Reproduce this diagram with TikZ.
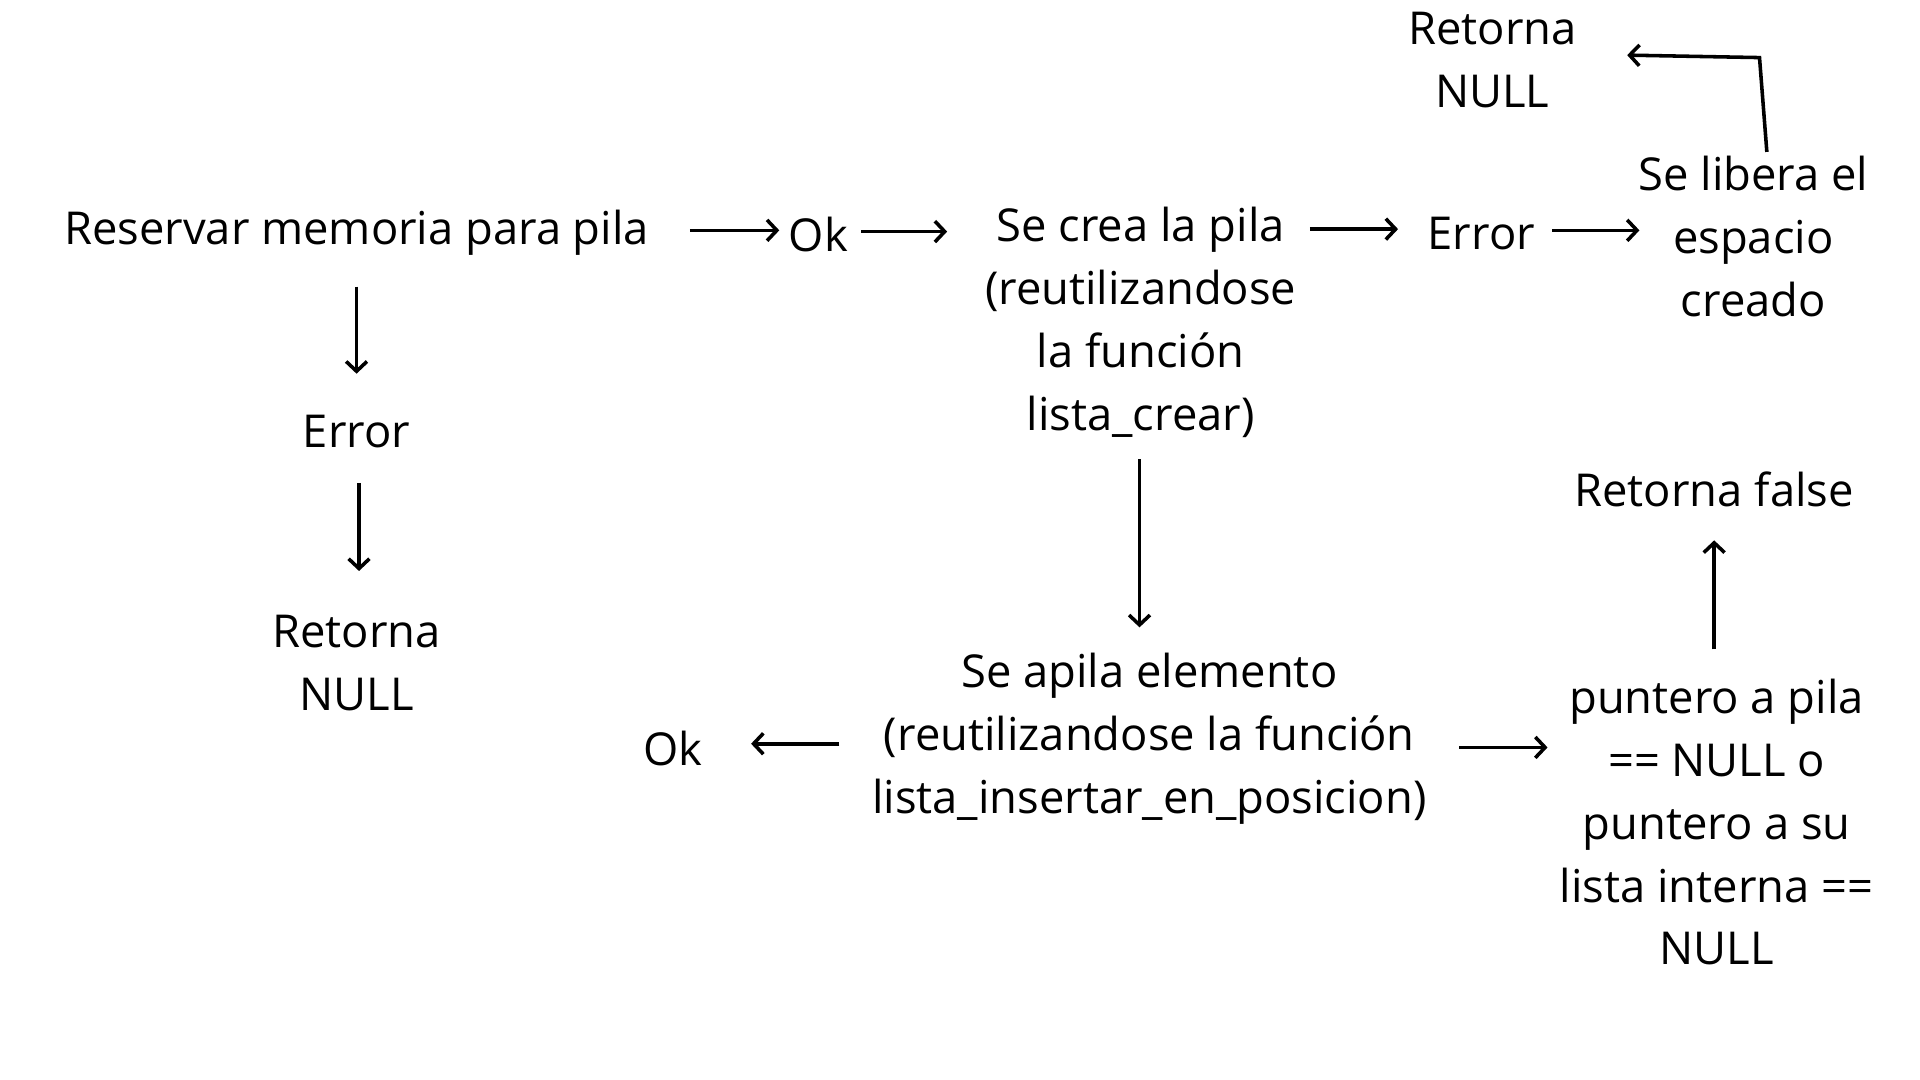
\documentclass[tikz,border=0pt]{standalone}
\usepackage{fontspec}
\setmainfont{Open Sans}
\usetikzlibrary{arrows.meta}
\begin{document}
\begin{tikzpicture}[x=0.5pt,y=-0.5pt,
  lbl/.style={inner sep=0pt,align=center,font=\fontsize{18.5}{25.65}\selectfont},
  arr/.style={line width=1.45pt,-{Straight Barb[length=4pt,width=8.5pt,line width=1.45pt]}}]
\useasboundingbox (0,0) rectangle (1567,881.4);
\node[lbl] (res) at (291,190) {Reservar memoria para pila};
\node[lbl] (ok1) at (668,191) {Ok};
\node[lbl] (crea) at (931,263) {Se crea la pila\\(reutilizandose\\la función\\lista\_crear)};
\node[lbl] (err2) at (1209,191) {Error};
\node[lbl] (lib) at (1431,193) {Se libera el\\espacio\\creado};
\node[lbl] (ret2) at (1218,49) {Retorna\\NULL};
\node[lbl] (err1) at (291,352) {Error};
\node[lbl] (ret1) at (291,541) {Retorna\\NULL};
\node[lbl] (apila) at (938,603) {Se apila elemento\\(reutilizandose la función\\lista\_insertar\_en\_posicion)};
\node[lbl] (ok2) at (549,611) {Ok};
\node[lbl] (punt) at (1401,671) {puntero a pila\\== NULL o\\puntero a su\\lista interna ==\\NULL};
\node[lbl] (retf) at (1399,399) {Retorna false};

\coordinate (a1s) at (563,188); \coordinate (a1e) at (636,188);
\coordinate (a2s) at (703,189); \coordinate (a2e) at (773,189);
\coordinate (a3s) at (1069,187); \coordinate (a3e) at (1141,187);
\coordinate (a4s) at (1267,188); \coordinate (a4e) at (1338,188);
\coordinate (b1) at (1442,124); \coordinate (b2) at (1436,47); \coordinate (b3) at (1328,45);
\coordinate (d1s) at (291,234); \coordinate (d1e) at (291,305);
\coordinate (d2s) at (293,394); \coordinate (d2e) at (293,466);
\coordinate (d3s) at (930,375); \coordinate (d3e) at (930,512);
\coordinate (l1s) at (685,607); \coordinate (l1e) at (613,607);
\coordinate (r1s) at (1191,610); \coordinate (r1e) at (1263,610);
\coordinate (u1s) at (1399,530); \coordinate (u1e) at (1399,441);

\draw[arr] (a1s) -- (a1e);
\draw[arr] (a2s) -- (a2e);
\draw[arr] (a3s) -- (a3e);
\draw[arr] (a4s) -- (a4e);
\draw[arr] (b1) -- (b2) -- (b3);
\draw[arr] (d1s) -- (d1e);
\draw[arr] (d2s) -- (d2e);
\draw[arr] (d3s) -- (d3e);
\draw[arr] (l1s) -- (l1e);
\draw[arr] (r1s) -- (r1e);
\draw[arr] (u1s) -- (u1e);
\end{tikzpicture}
\end{document}
